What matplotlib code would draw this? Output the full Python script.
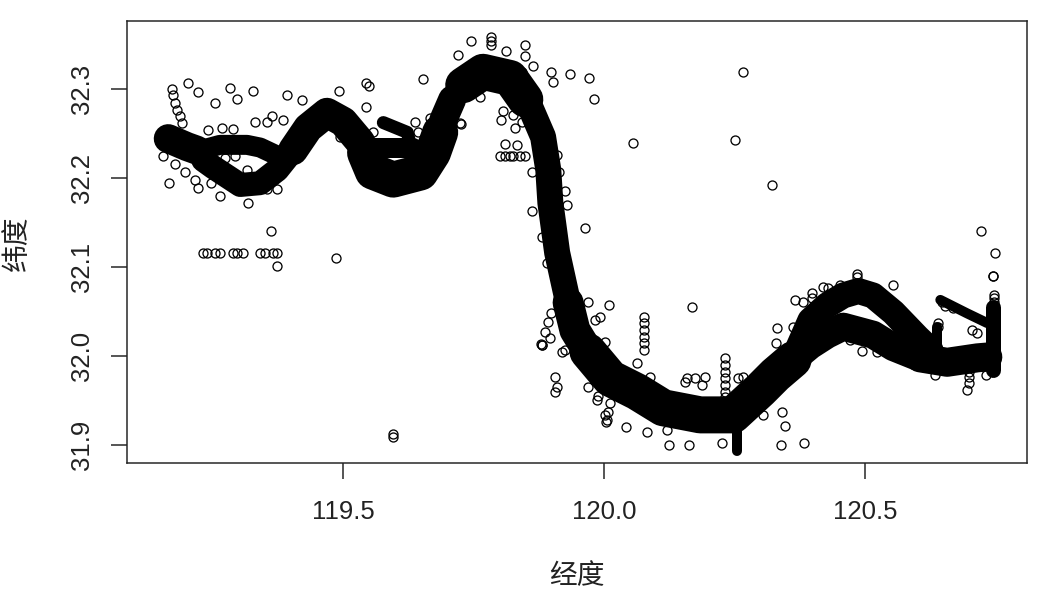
import matplotlib
matplotlib.use('Agg')
import matplotlib.pyplot as plt

plt.rcParams['font.family'] = ['Liberation Sans', 'Noto Sans CJK SC', 'DejaVu Sans']

start_lon = [119.165, 119.201, 119.220]
start_lat = [32.244, 32.235, 32.231]
upper_lon = [119.226, 119.264, 119.316, 119.341, 119.370]
upper_lat = [32.231, 32.237, 32.237, 32.234, 32.226]
lower_lon = [119.232, 119.251, 119.303, 119.341, 119.374, 119.404]
lower_lat = [32.220, 32.212, 32.192, 32.194, 32.209, 32.231]
hump_lon = [119.404, 119.433, 119.469, 119.500, 119.533]
hump_lat = [32.231, 32.256, 32.273, 32.263, 32.240]
valley_lon = [119.542, 119.557, 119.596, 119.648, 119.672, 119.686]
valley_lat = [32.228, 32.207, 32.198, 32.206, 32.228, 32.251]
valley_top_lon = [119.557, 119.634]
valley_top_lat = [32.234, 32.234]
finger_lon = [119.577, 119.623, 119.632]
finger_lat = [32.262, 32.251, 32.228]
rise_lon = [119.686, 119.692, 119.709]
rise_lat = [32.251, 32.265, 32.288]
peak_lon = [119.730, 119.768, 119.820, 119.849]
peak_lat = [32.304, 32.319, 32.312, 32.288]
drop_lon = [119.858, 119.883, 119.893, 119.897, 119.910, 119.931]
drop_lat = [32.280, 32.246, 32.209, 32.172, 32.116, 32.060]
bend_lon = [119.931, 119.944, 119.969]
bend_lat = [32.060, 32.029, 32.005]
floor_lon = [119.969, 120.012, 120.063, 120.113, 120.184, 120.247, 120.299, 120.328, 120.362]
floor_lat = [32.005, 31.975, 31.960, 31.942, 31.934, 31.934, 31.962, 31.979, 31.996]
arc_hi_lon = [120.362, 120.395, 120.427, 120.458, 120.487, 120.515, 120.554, 120.600, 120.625]
arc_hi_lat = [31.996, 32.040, 32.057, 32.068, 32.073, 32.068, 32.049, 32.021, 32.007]
arc_lo_lon = [120.362, 120.395, 120.427, 120.458, 120.515, 120.554, 120.605]
arc_lo_lat = [31.996, 32.012, 32.024, 32.033, 32.024, 32.010, 31.998]
flat_lon = [120.605, 120.657, 120.715, 120.735]
flat_lat = [31.998, 31.993, 31.998, 31.999]
bar_lon = [120.745, 120.745]
bar_lat = [32.055, 31.984]
branch_lon = [120.644, 120.695, 120.734]
branch_lat = [32.063, 32.048, 32.037]
stub_lon = [120.638, 120.638]
stub_lat = [32.033, 32.010]
spike_lon = [120.255, 120.255]
spike_lat = [31.920, 31.894]

# loose points around the track
left_lon = [119.203, 119.222, 119.255, 119.284, 119.297, 119.328, 119.393, 119.421, 119.544, 119.550,
            119.544, 119.653, 119.331, 119.167, 119.264, 119.318, 119.374, 119.354, 119.222, 119.216,
            119.247, 119.197, 119.178, 119.155, 119.241, 119.268, 119.289, 119.354, 119.364, 119.385,
            119.316, 119.293, 119.274, 119.172, 119.174, 119.178, 119.182, 119.188, 119.192,
            119.232, 119.239, 119.255, 119.264, 119.289, 119.297, 119.308, 119.341, 119.351, 119.366, 119.374,
            119.362, 119.374, 119.487, 119.492, 119.494, 119.557, 119.638, 119.724, 119.667,
            119.644, 119.644, 119.642, 119.596, 119.596]
left_lat = [32.306, 32.296, 32.284, 32.301, 32.289, 32.298, 32.293, 32.287, 32.306, 32.303,
            32.280, 32.311, 32.263, 32.194, 32.180, 32.172, 32.188, 32.187, 32.189, 32.198,
            32.194, 32.207, 32.215, 32.224, 32.254, 32.256, 32.255, 32.263, 32.269, 32.265,
            32.209, 32.224, 32.222, 32.300, 32.293, 32.284, 32.276, 32.269, 32.262,
            32.116, 32.116, 32.116, 32.116, 32.116, 32.116, 32.116, 32.116, 32.116, 32.116, 32.116,
            32.140, 32.101, 32.110, 32.297, 32.246, 32.251, 32.263, 32.261, 32.267,
            32.251, 32.235, 32.222, 31.912, 31.909]
top_lon = [119.745, 119.784, 119.784, 119.784, 119.849, 119.849, 119.864, 119.898, 119.902, 119.935,
           119.971, 119.981, 120.056, 119.812, 119.843, 119.872, 119.807, 119.803, 119.826, 119.830,
           119.843, 119.810, 119.833, 119.801, 119.810, 119.820, 119.826, 119.839, 119.849,
           119.862, 119.925, 119.910, 119.914, 119.929, 119.862, 119.964, 119.881, 119.891,
           119.762, 119.726, 119.720, 120.251, 120.266, 120.322]
top_lat = [32.354, 32.358, 32.354, 32.349, 32.349, 32.337, 32.325, 32.319, 32.307, 32.317,
           32.312, 32.288, 32.239, 32.342, 32.319, 32.291, 32.275, 32.265, 32.271, 32.256,
           32.263, 32.238, 32.237, 32.225, 32.225, 32.225, 32.225, 32.225, 32.225,
           32.207, 32.185, 32.226, 32.207, 32.169, 32.163, 32.144, 32.134, 32.104,
           32.291, 32.260, 32.338, 32.242, 32.319, 32.192]
mid_lon = [119.969, 120.010, 120.169, 119.992, 119.983, 120.002,
           120.077, 120.077, 120.077, 120.077, 120.077, 120.077, 120.063, 120.331, 120.330,
           120.232, 120.232, 120.232, 120.232, 120.232, 120.232, 120.232,
           120.257, 120.266, 120.155, 120.159, 120.174, 120.194, 120.188, 120.088,
           119.906, 119.910, 119.906, 119.969, 119.987, 119.989, 120.012, 120.008, 120.002, 120.006, 120.004,
           120.042, 120.082, 120.125, 120.163, 120.226, 120.305, 120.341, 120.347, 120.339,
           119.898, 119.893, 119.887, 119.897, 119.881, 119.881, 119.879, 119.925, 119.920, 120.121]
mid_lat = [32.061, 32.057, 32.055, 32.044, 32.040, 32.016,
           32.044, 32.037, 32.029, 32.021, 32.015, 32.007, 31.992, 32.031, 32.015,
           31.998, 31.990, 31.982, 31.975, 31.967, 31.960, 31.954,
           31.975, 31.976, 31.971, 31.975, 31.975, 31.976, 31.967, 31.976,
           31.976, 31.965, 31.960, 31.965, 31.951, 31.955, 31.947, 31.937, 31.934, 31.928, 31.926,
           31.920, 31.915, 31.900, 31.900, 31.902, 31.934, 31.937, 31.921, 31.900,
           32.048, 32.038, 32.027, 32.020, 32.012, 32.012, 32.013, 32.007, 32.005, 31.917]
right_lon = [120.722, 120.749, 120.745, 120.745, 120.747, 120.747, 120.747, 120.554, 120.485, 120.485,
             120.420, 120.398, 120.398, 120.366, 120.381, 120.452, 120.429, 120.362, 120.383,
             120.494, 120.471, 120.523, 120.634, 120.640, 120.640, 120.648, 120.653, 120.669,
             120.705, 120.715, 120.695, 120.699, 120.699, 120.699, 120.732]
right_lat = [32.140, 32.116, 32.090, 32.090, 32.068, 32.065, 32.061, 32.080, 32.092, 32.089,
             32.078, 32.071, 32.065, 32.063, 32.061, 32.080, 32.076, 32.033, 31.902,
             32.006, 32.018, 32.005, 31.979, 32.037, 32.033, 32.061, 32.056, 32.054,
             32.029, 32.026, 31.962, 31.970, 31.976, 31.982, 31.979]

x_ticks = [119.5, 120.0, 120.5]
y_ticks = [31.9, 32.0, 32.1, 32.2, 32.3]

px = 0.72  # one pixel in points at dpi 100

fig = plt.figure(figsize=(10.5, 6.03), dpi=100)
ax = fig.add_axes([127 / 1050, 1 - 463 / 603, 900 / 1050, 442 / 603])

tracks = [
    (start_lon, start_lat, 29), (upper_lon, upper_lat, 20), (lower_lon, lower_lat, 24),
    (hump_lon, hump_lat, 30), (valley_lon, valley_lat, 36), (valley_top_lon, valley_top_lat, 20),
    (finger_lon, finger_lat, 13), (rise_lon, rise_lat, 28), (peak_lon, peak_lat, 36),
    (drop_lon, drop_lat, 26), (bend_lon, bend_lat, 31), (floor_lon, floor_lat, 37),
    (arc_hi_lon, arc_hi_lat, 26), (arc_lo_lon, arc_lo_lat, 28), (flat_lon, flat_lat, 29),
    (bar_lon, bar_lat, 15), (branch_lon, branch_lat, 10), (stub_lon, stub_lat, 10),
    (spike_lon, spike_lat, 10),
]
for lon, lat, w in tracks:
    ax.plot(lon, lat, color='black', lw=w * px, solid_capstyle='round', solid_joinstyle='round')

for lon, lat in [(left_lon, left_lat), (top_lon, top_lat), (mid_lon, mid_lat), (right_lon, right_lat)]:
    ax.plot(lon, lat, ls='none', marker='o', ms=9 * px, mfc='none', mec='black', mew=1.3 * px)

ax.set_xlim(119.086, 120.810)
ax.set_ylim(31.880, 32.376)
ax.set_xticks(x_ticks, [f'{v:.1f}' for v in x_ticks])
ax.set_yticks(y_ticks, [f'{v:.1f}' for v in y_ticks])
ax.tick_params(axis='x', length=16 * px, width=1.5 * px, labelsize=18.5, pad=15, colors='#222222')
ax.tick_params(axis='y', length=16 * px, width=1.5 * px, labelsize=18.5, pad=12, colors='#222222',
               labelrotation=90)
for label in ax.get_yticklabels():
    label.set_va('center')
for spine in ax.spines.values():
    spine.set_linewidth(1.5 * px)
    spine.set_color('#222222')

fig.text(577 / 1050, 1 - 577 / 603, '经度', fontsize=20, ha='center', va='center', color='#222222')
fig.text(18 / 1050, 1 - 243 / 603, '纬度', fontsize=20, ha='center', va='center', rotation=90, color='#222222')

fig.savefig('out.png', dpi=100)
